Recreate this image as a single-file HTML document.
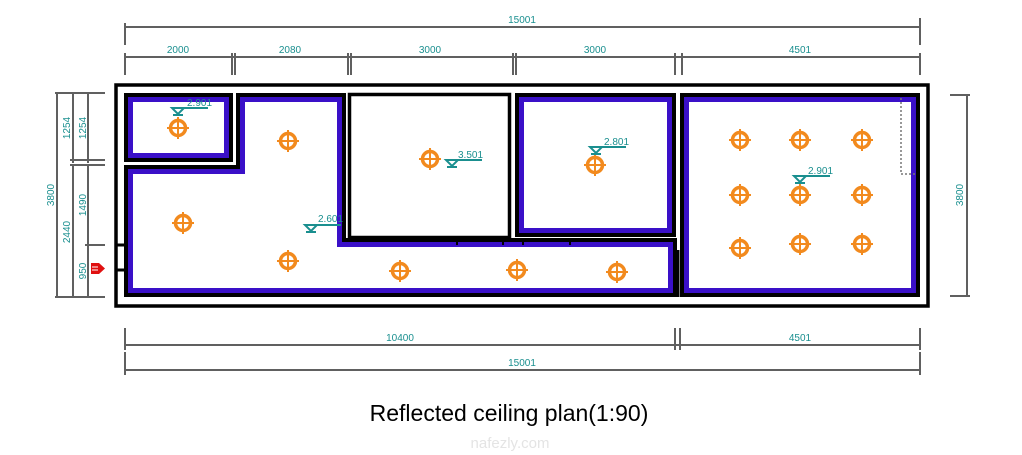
<!DOCTYPE html>
<html><head><meta charset="utf-8"><style>
html,body{margin:0;padding:0;background:#fff;}
svg{display:block;}
.d{stroke:#606060;stroke-width:2;fill:none;}
.t{fill:#1a8f8f;font-family:"Liberation Sans",sans-serif;font-size:10px;}
</style></head><body>
<svg width="1022" height="455" viewBox="0 0 1022 455" xmlns="http://www.w3.org/2000/svg">
<defs>
<g id="L"><circle r="7.5" fill="none" stroke="#f28a1e" stroke-width="3.5"/><path d="M-11 0H11M0 -11V11" stroke="#f28a1e" stroke-width="2"/></g>
<g id="M"><path d="M-6 -6H6L0 0Z" fill="none" stroke="#1a8f8f" stroke-width="2"/><path d="M-6 -6H30" stroke="#1a8f8f" stroke-width="2"/><path d="M-5 1H5" stroke="#1a8f8f" stroke-width="2"/></g>
</defs>
<rect x="116" y="85" width="812" height="221" fill="none" stroke="#000" stroke-width="3.5"/>
<rect x="124" y="93" width="109" height="69" fill="#000"/>
<rect x="128" y="97" width="101" height="61" fill="#3a10c8"/>
<rect x="133" y="102" width="91" height="51" fill="#fff"/>
<polygon points="124,165 236,165 236,93 346,93 346,238 677,238 677,297 124,297" fill="#000"/>
<polygon points="128,169 240,169 240,97 342,97 342,242 673,242 673,293 128,293" fill="#3a10c8"/>
<polygon points="133,174 245,174 245,102 337,102 337,247 668,247 668,288 133,288" fill="#fff"/>
<rect x="349.5" y="94.5" width="160" height="143" fill="#fff" stroke="#000" stroke-width="3.5"/>
<path d="M457 238V245M503 238V245M523 238V245M570 238V245" stroke="#000" stroke-width="2"/>
<rect x="515" y="93" width="161" height="144" fill="#000"/>
<rect x="519" y="97" width="153" height="136" fill="#3a10c8"/>
<rect x="524" y="102" width="143" height="126" fill="#fff"/>
<rect x="680" y="93" width="240" height="204" fill="#000"/>
<rect x="684" y="97" width="232" height="196" fill="#3a10c8"/>
<rect x="689" y="102" width="222" height="186" fill="#fff"/>
<path d="M901 98V174H915" stroke="#777" stroke-width="1.5" stroke-dasharray="2,2" fill="none"/>
<path d="M116 245H124M116 270H124M678 250V297" stroke="#000" stroke-width="3"/>
<use href="#L" x="178" y="128"/><use href="#L" x="288" y="141"/><use href="#L" x="183" y="223"/><use href="#L" x="288" y="261"/>
<use href="#L" x="430" y="159"/><use href="#L" x="400" y="271"/><use href="#L" x="517" y="270"/><use href="#L" x="617" y="272"/>
<use href="#L" x="595" y="165"/>
<use href="#L" x="740" y="140"/><use href="#L" x="800" y="140"/><use href="#L" x="862" y="140"/>
<use href="#L" x="740" y="195"/><use href="#L" x="800" y="195"/><use href="#L" x="862" y="195"/>
<use href="#L" x="740" y="248"/><use href="#L" x="800" y="244"/><use href="#L" x="862" y="244"/>
<use href="#M" x="178" y="114"/><text class="t" x="187" y="106">2.901</text>
<use href="#M" x="452" y="166"/><text class="t" x="458" y="158">3.501</text>
<use href="#M" x="596" y="153"/><text class="t" x="604" y="145">2.801</text>
<use href="#M" x="800" y="182"/><text class="t" x="808" y="174">2.901</text>
<use href="#M" x="311" y="231"/><text class="t" x="318" y="222">2.601</text>
<path class="d" d="M125 27H920M125 23V45M920 18V45"/>
<text class="t" x="522" y="23" text-anchor="middle">15001</text>
<path class="d" d="M125 57H920M125 53V75M232 53V75M235 53V75M348 53V75M351 53V75M513 53V75M516 53V75M675 53V75M682 53V75M920 53V75"/>
<text class="t" x="178" y="53" text-anchor="middle">2000</text>
<text class="t" x="290" y="53" text-anchor="middle">2080</text>
<text class="t" x="430" y="53" text-anchor="middle">3000</text>
<text class="t" x="595" y="53" text-anchor="middle">3000</text>
<text class="t" x="800" y="53" text-anchor="middle">4501</text>
<path class="d" d="M125 345H920M125 328V350M675 328V350M680 328V350M920 328V350"/>
<text class="t" x="400" y="341" text-anchor="middle">10400</text>
<text class="t" x="800" y="341" text-anchor="middle">4501</text>
<path class="d" d="M125 370H920M125 352V375M920 352V375"/>
<text class="t" x="522" y="366" text-anchor="middle">15001</text>
<path class="d" d="M57 93V297M73 93V163M73 166V297M88 93V163M88 166V297M55 93H105M70 160H105M70 165H105M85 245H105M55 297H105"/>
<text class="t" transform="translate(54,195) rotate(-90)" text-anchor="middle">3800</text>
<text class="t" transform="translate(70,128) rotate(-90)" text-anchor="middle">1254</text>
<text class="t" transform="translate(86,128) rotate(-90)" text-anchor="middle">1254</text>
<text class="t" transform="translate(70,232) rotate(-90)" text-anchor="middle">2440</text>
<text class="t" transform="translate(86,205) rotate(-90)" text-anchor="middle">1490</text>
<text class="t" transform="translate(86,271) rotate(-90)" text-anchor="middle">950</text>
<path class="d" d="M967 95V296M950 95H970M950 296H970"/>
<text class="t" transform="translate(963,195) rotate(-90)" text-anchor="middle">3800</text>
<rect x="91" y="263" width="8" height="11" fill="#e01010"/><path d="M99 263L105 268.5L99 274Z" fill="#e01010"/>
<path d="M92 267H98M92 270H98" stroke="#fff" stroke-width="1"/>
<text x="509" y="421" text-anchor="middle" font-family="Liberation Sans,sans-serif" font-size="23" fill="#000">Reflected ceiling plan(1:90)</text>
<text x="510" y="448" text-anchor="middle" font-family="Liberation Sans,sans-serif" font-size="15" fill="#e4e4e4">nafezly.com</text>
</svg>
</body></html>
